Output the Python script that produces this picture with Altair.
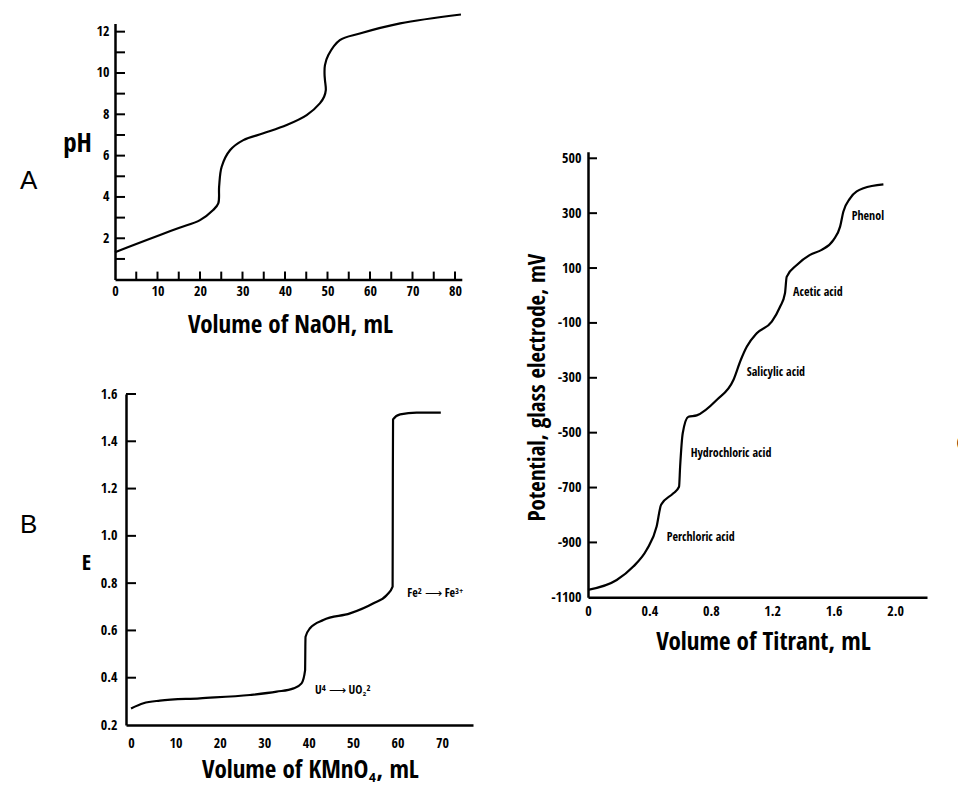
import altair as alt
import pandas as pd

W, H = 950, 779
FONT = "'Open Sans Condensed', 'Noto Sans Condensed', 'Roboto Condensed', Roboto, sans-serif"
LETTER_FONT = "'Liberation Sans', Arial, sans-serif"

# ---------------- Panel A : pH vs volume of NaOH ----------------
a_volume = [0, 5, 10.6, 15, 20, 23.1, 24.3, 24.5, 25.1, 27.1, 30.2, 34.9, 40.4, 45.1,
            48.2, 49.2, 49.6, 49.4, 49.3, 49.4, 50.2, 52.9, 57.6, 67.1, 81.4]
a_ph = [1.32, 1.72, 2.16, 2.5, 2.88, 3.37, 3.69, 4.5, 5.46, 6.27, 6.75, 7.08, 7.48, 7.96,
        8.53, 8.85, 9.17, 9.66, 9.98, 10.38, 10.87, 11.59, 11.91, 12.4, 12.83]
a_x_labels = [0, 10, 20, 30, 40, 50, 60, 70, 80]
a_y_labels = [2, 4, 6, 8, 10, 12]
a_x_ticks = list(range(5, 81, 5))
a_y_ticks = list(range(1, 13))

# ---------------- Panel B : E vs volume of KMnO4 ----------------
b_volume = [0, 2.8, 6.5, 15.5, 26.8, 32.8, 36.6, 38.4, 39.2, 39.25, 39.3, 40.3, 43.3, 49.3,
            54.6, 57.6, 58.9, 58.95, 59.0, 60.6, 64.3, 69.75]
b_e = [0.27, 0.292, 0.303, 0.313, 0.327, 0.341, 0.355, 0.376, 0.432, 0.531, 0.573, 0.609,
       0.644, 0.672, 0.715, 0.75, 0.785, 1.236, 1.493, 1.514, 1.521, 1.521]
b_x_labels = [0, 10, 20, 30, 40, 50, 60, 70]
b_y_labels = [0.2, 0.4, 0.6, 0.8, 1.0, 1.2, 1.4, 1.6]
b_y_ticks = [0.4, 0.6, 0.8, 1.0, 1.2, 1.4, 1.6]
b_notes = ["U⁴ ⟶ UO₂²", "Fe² ⟶ Fe³⁺"]
b_note_x = [41.4, 62.2]
b_note_y = [0.348, 0.758]

# ---------------- Panel C : potential vs volume of titrant ----------------
c_volume = [0, 0.187, 0.295, 0.382, 0.447, 0.476, 0.556, 0.593, 0.6, 0.617, 0.654, 0.708,
            0.838, 0.947, 0.995, 1.034, 1.099, 1.197, 1.251, 1.283, 1.294, 1.36, 1.446,
            1.522, 1.598, 1.642, 1.663, 1.707, 1.794, 1.924]
c_mv = [-1073, -1037, -988, -927, -842, -763, -721, -697, -624, -502, -442, -437, -381,
        -308, -235, -187, -138, -95, -41, 8, 68, 111, 148, 166, 202, 251, 305, 354, 391, 405]
c_x_labels = [0, 0.4, 0.8, 1.2, 1.6, 2.0]
c_y_labels = [-1100, -900, -700, -500, -300, -100, 100, 300, 500]
c_y_ticks = [-900, -700, -500, -300, -100, 100, 300, 500]
c_notes = ["Perchloric acid", "Hydrochloric acid", "Salicylic acid", "Acetic acid", "Phenol"]
c_note_x = [0.513, 0.669, 1.034, 1.336, 1.718]
c_note_y = [-879, -574, -278, 14, 290]

# ---------------- scales (each panel placed on the canvas via its range) ----------------
xA = alt.Scale(domain=[0, 81.6], range=[107, 453.8], nice=False, zero=False)
yA = alt.Scale(domain=[0, 12.4], range=[271.6, 15.4], nice=False, zero=False)
xB = alt.Scale(domain=[-1.13, 77], range=[118, 465], nice=False, zero=False)
yB = alt.Scale(domain=[0.2, 1.6], range=[717, 386], nice=False, zero=False)
xC = alt.Scale(domain=[0, 2.208], range=[580, 919], nice=False, zero=False)
yC = alt.Scale(domain=[-1100, 524], range=[589.3, 143.7], nice=False, zero=False)


def axis(orient, offset, values, title, tx, ty, label_pad, label_expr, angle=0,
         label_size=14, title_size=25):
    return alt.Axis(
        orient=orient, offset=offset, values=values, ticks=False, grid=False,
        domainColor="black", domainWidth=2.5, labelColor="black", labelFont=FONT,
        labelFontSize=label_size, labelPadding=label_pad, labelFlush=False,
        labelOverlap=False, labelExpr=label_expr, title=title, titleFont=FONT,
        titleFontSize=title_size, titleFontWeight="normal", titleColor="black",
        titleX=tx, titleY=ty, titleAngle=angle, titleAlign="center",
        titleBaseline="middle",
    )


def curve(xs, ys, sx, sy, ax_x, ax_y, interp):
    df = pd.DataFrame({"x": xs, "y": ys, "i": range(len(xs))})
    return alt.Chart(df).mark_line(color="black", strokeWidth=2.2, interpolate=interp).encode(
        x=alt.X("x:Q", scale=sx, axis=ax_x),
        y=alt.Y("y:Q", scale=sy, axis=ax_y),
        order=alt.Order("i:Q"),
    )


def x_ticks(vals, sx, sy, base, length):
    return alt.Chart(pd.DataFrame({"v": vals})).mark_rule(
        color="black", strokeWidth=2, y2Offset=-length).encode(
        x=alt.X("v:Q", scale=sx, axis=None),
        y=alt.Y(datum=base, scale=sy, axis=None),
        y2=alt.Y2(datum=base),
    )


def y_ticks(vals, sx, sy, base, length):
    return alt.Chart(pd.DataFrame({"v": vals})).mark_rule(
        color="black", strokeWidth=2, x2Offset=length).encode(
        y=alt.Y("v:Q", scale=sy, axis=None),
        x=alt.X(datum=base, scale=sx, axis=None),
        x2=alt.X2(datum=base),
    )


def notes(texts, xs, ys, sx, sy, size):
    df = pd.DataFrame({"t": texts, "x": xs, "y": ys})
    return alt.Chart(df).mark_text(font=FONT, fontSize=size, color="black",
                                   align="left", baseline="middle").encode(
        x=alt.X("x:Q", scale=sx, axis=None),
        y=alt.Y("y:Q", scale=sy, axis=None),
        text="t:N",
    )


def letter(ch, px, py):
    return alt.Chart(pd.DataFrame({"t": [ch]})).mark_text(
        font=LETTER_FONT, fontSize=26, color="black", align="left",
        baseline="middle").encode(x=alt.value(px), y=alt.value(py), text="t:N")


INT = "toString(datum.value)"
ONE_DEC = "format(datum.value, '.1f')"
C_X = "datum.value == 0 ? '0' : format(datum.value, '.1f')"

panelA = curve(
    a_volume, a_ph, xA, yA,
    axis("bottom", 271.6 - H, a_x_labels, "Volume of NaOH, mL", 282, 45, 5, INT),
    axis("left", -107, a_y_labels, "pH", -38, 135, 6, INT, title_size=27),
    "catmull-rom")
panelB = curve(
    b_volume, b_e, xB, yB,
    axis("bottom", 717 - H, b_x_labels, "Volume of KMnO₄, mL", 302, 44, 11, INT),
    axis("left", -118, b_y_labels, "E", -40, 554, 9, ONE_DEC, title_size=22),
    "monotone")
panelC = curve(
    c_volume, c_mv, xC, yC,
    axis("bottom", 589.3 - H, c_x_labels, "Volume of Titrant, mL", 755, 44, 7, C_X),
    axis("left", -580, c_y_labels, "Potential, glass electrode, mV", -51, 379, 7, INT,
         angle=270, title_size=23),
    "monotone")

chart = alt.layer(
    panelA,
    x_ticks(a_x_ticks, xA, yA, 0, 8),
    y_ticks(a_y_ticks, xA, yA, 0, 10),
    panelB,
    y_ticks(b_y_ticks, xB, yB, -1.13, 10),
    notes(b_notes, b_note_x, b_note_y, xB, yB, 12),
    panelC,
    y_ticks(c_y_ticks, xC, yC, 0, 9),
    notes(c_notes, c_note_x, c_note_y, xC, yC, 12),
    letter("A", 12, 173),
    letter("B", 12, 517),
    letter("C", 948, 436),
).resolve_scale(x="independent", y="independent").resolve_axis(
    x="independent", y="independent"
).properties(
    width=W, height=H, padding=0,
    autosize=alt.AutoSizeParams(type="none"),
    background="white",
).configure_view(stroke=None)

chart.save("out.html", embed_options={"renderer": "svg", "actions": False})
